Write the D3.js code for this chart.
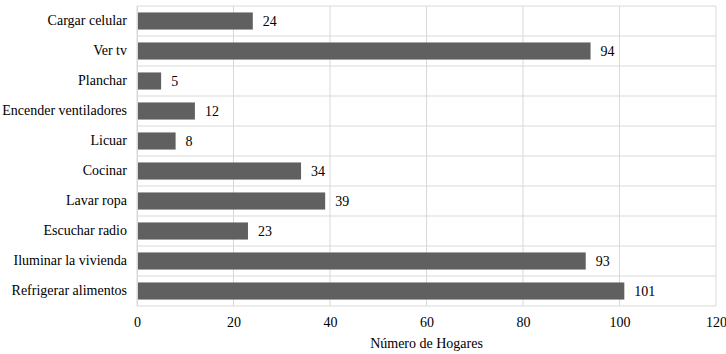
<!DOCTYPE html>
<html lang="es">
<head>
<meta charset="UTF-8">
<script src="https://d3js.org/d3.v7.min.js"></script>
<style>
  body { margin: 0; background: #fff; }
  svg text { font-family: "Liberation Serif", "Times New Roman", serif !important; fill: #000; }
</style>
</head>
<body>
<svg id="mainsvg" width="726" height="354"></svg>
<script>
  // datos
  const categories = ['Cargar celular', 'Ver tv', 'Planchar', 'Encender ventiladores', 'Licuar',
    'Cocinar', 'Lavar ropa', 'Escuchar radio', 'Iluminar la vivienda', 'Refrigerar alimentos']
  const values = [24, 94, 5, 12, 8, 34, 39, 23, 93, 101]
  const xTicks = [0, 20, 40, 60, 80, 100, 120]
  const xTitle = 'Número de Hogares'

  const svg = d3.select('#mainsvg')
  const margin = { top: 6, left: 137, bottom: 48, right: 10 }
  const width = +svg.attr('width')
  const height = +svg.attr('height')
  const innerWidth = width - margin.left - margin.right
  const innerHeight = height - margin.top - margin.bottom
  const serif = '"Liberation Serif", "Times New Roman", serif'

  const data = categories.map((c, i) => ({ cat: c, val: values[i] }))

  const xScale = d3.scaleLinear().domain([0, 120]).range([0, innerWidth])
  const yScale = d3.scaleBand().domain(categories).range([0, innerHeight])
    .paddingInner(0.43).paddingOuter(0.215)

  const g = svg.append('g').attr('transform', `translate(${margin.left},${margin.top})`)

  // grid verticales
  g.selectAll('.vgrid').data(xTicks).enter().append('line')
    .attr('x1', d => xScale(d)).attr('x2', d => xScale(d))
    .attr('y1', 0).attr('y2', innerHeight)
    .attr('stroke', '#d9d9d9').attr('stroke-width', 1)

  // grid horizontales (entre categorías)
  const hLines = d3.range(categories.length + 1).map(i => i * innerHeight / categories.length)
  g.selectAll('.hgrid').data(hLines).enter().append('line')
    .attr('x1', 0).attr('x2', innerWidth)
    .attr('y1', d => d).attr('y2', d => d)
    .attr('stroke', '#d9d9d9').attr('stroke-width', 1)

  // barras
  g.selectAll('rect').data(data).enter().append('rect')
    .attr('x', 0)
    .attr('y', d => yScale(d.cat))
    .attr('width', d => xScale(d.val))
    .attr('height', yScale.bandwidth())
    .attr('fill', '#606060')

  // etiquetas de valor
  g.selectAll('.val').data(data).enter().append('text')
    .attr('x', d => xScale(d.val) + 10)
    .attr('y', d => yScale(d.cat) + yScale.bandwidth() / 2)
    .attr('dy', '0.35em')
    .attr('font-size', 14)
    .text(d => d.val)

  // eje y
  const yAxis = g.append('g').call(d3.axisLeft(yScale).tickSize(0).tickPadding(10))
    .attr('font-family', serif).attr('font-size', 14)
  yAxis.select('.domain').attr('stroke', '#d9d9d9')

  // eje x
  const xAxis = g.append('g').attr('transform', `translate(0,${innerHeight})`)
    .call(d3.axisBottom(xScale).tickValues(xTicks).tickSize(0).tickPadding(11))
    .attr('font-family', serif).attr('font-size', 14)
  xAxis.select('.domain').remove()

  g.append('text')
    .attr('x', innerWidth / 2)
    .attr('y', innerHeight + 42)
    .attr('text-anchor', 'middle')
    .attr('font-size', 14)
    .text(xTitle)
</script>
</body>
</html>
